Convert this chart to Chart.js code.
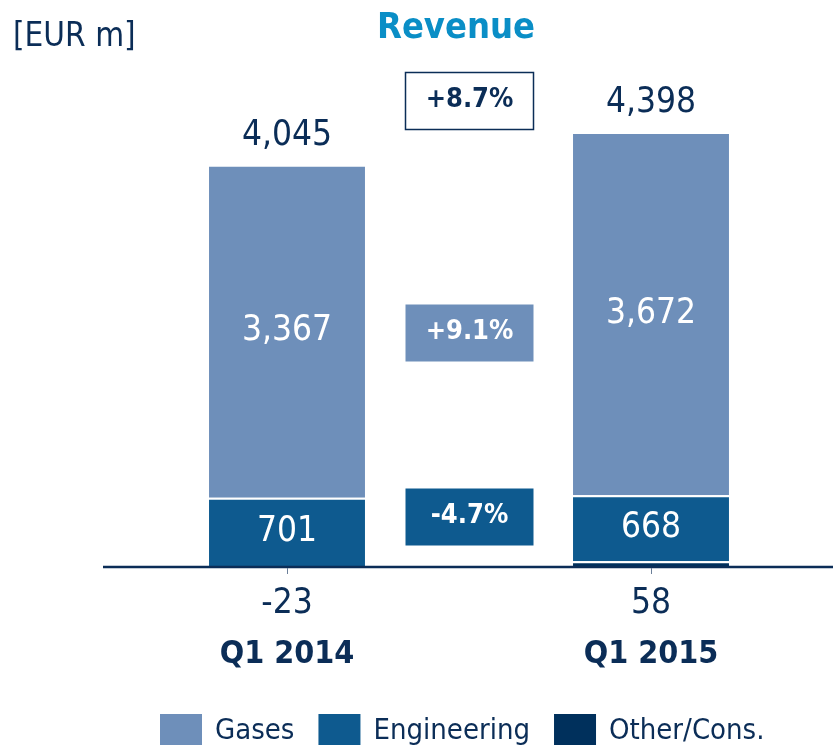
<!DOCTYPE html>
<html>
<head>
<meta charset="utf-8">
<script src="https://cdn.jsdelivr.net/npm/chart.js@4"></script>
<style>
  html, body { margin: 0; padding: 0; background: #fff; }
  #wrap { width: 833px; height: 749px; }
</style>
</head>
<body>
<div id="wrap"><canvas id="revenue"></canvas></div>
<script>
var categories = ["Q1 2014", "Q1 2015"];
var gases = [3367, 3672];
var engineering = [701, 668];
var other = [-23, 58];
var totals = [4045, 4398];
var changes = ["+8.7%", "+9.1%", "-4.7%"];

var NAVY = "#0b2d57";
var C_GASES = "#6e8fba";
var C_ENG = "#0e5a8f";
var C_OTHER = "#00305c";
var FONT = '"Liberation Sans Narrow", "DejaVu Sans Condensed", sans-serif';

function fmt(v) {
    return v.toLocaleString("en-US");
}

var labelsPlugin = {
    id: "labels",
    afterDatasetsDraw: function (chart) {
        var ctx = chart.ctx;
        var area = chart.chartArea;
        var x = chart.scales.x;
        var y = chart.scales.y;
        var y0 = y.getPixelForValue(0);
        ctx.save();

        // axis line + small ticks
        ctx.strokeStyle = NAVY;
        ctx.lineWidth = 2.5;
        ctx.beginPath();
        ctx.moveTo(area.left - 2, y0);
        ctx.lineTo(area.right, y0);
        ctx.stroke();
        ctx.strokeStyle = "#6b7f99";
        ctx.lineWidth = 1;
        categories.forEach(function (c, i) {
            var cx = Math.round(x.getPixelForValue(i)) + 0.5;
            ctx.beginPath();
            ctx.moveTo(cx, y0 + 1);
            ctx.lineTo(cx, y0 + 7);
            ctx.stroke();
        });

        ctx.textAlign = "center";
        ctx.textBaseline = "middle";

        // segment labels, totals, category labels
        var gMeta = chart.getDatasetMeta(2);
        var eMeta = chart.getDatasetMeta(1);
        categories.forEach(function (c, i) {
            var cx = x.getPixelForValue(i);
            ctx.fillStyle = "#ffffff";
            ctx.font = "35px " + FONT;
            var gb = gMeta.data[i];
            ctx.fillText(fmt(gases[i]), cx, (gb.y + gb.base) / 2);
            var eb = eMeta.data[i];
            ctx.fillText(fmt(engineering[i]), cx, (eb.y + eb.base) / 2);

            ctx.fillStyle = NAVY;
            ctx.fillText(fmt(totals[i]), cx, gb.y - 29);

            ctx.fillText(fmt(other[i]), cx, y0 + 37);
            ctx.font = "bold 32px " + FONT;
            ctx.fillText(c, cx, y0 + 88);
        });

        // change boxes between the bars
        var mx = (x.getPixelForValue(0) + x.getPixelForValue(1)) / 2;
        var boxes = [
            { cy: 100, fill: "#ffffff", stroke: NAVY, text: NAVY },
            { cy: 332, fill: C_GASES, stroke: null, text: "#ffffff" },
            { cy: 516, fill: C_ENG, stroke: null, text: "#ffffff" }
        ];
        ctx.font = "bold 27px " + FONT;
        boxes.forEach(function (b, i) {
            var w = 128, h = 57;
            var bx = Math.round(mx - w / 2) + 0.5;
            var by = Math.round(b.cy - h / 2) + 0.5;
            ctx.fillStyle = b.fill;
            ctx.fillRect(bx, by, w, h);
            if (b.stroke) {
                ctx.strokeStyle = b.stroke;
                ctx.lineWidth = 1.5;
                ctx.strokeRect(bx, by, w, h);
            }
            ctx.fillStyle = b.text;
            ctx.fillText(changes[i], bx + w / 2, b.cy);
        });

        // header
        ctx.textAlign = "left";
        ctx.fillStyle = NAVY;
        ctx.font = "33px " + FONT;
        ctx.fillText("[EUR m]", 13, 37);
        ctx.textAlign = "center";
        ctx.fillStyle = "#0a8ec6";
        ctx.font = "bold 36px " + FONT;
        ctx.fillText("Revenue", 456, 29);

        // legend
        var items = [
            { label: "Gases", color: C_GASES },
            { label: "Engineering", color: C_ENG },
            { label: "Other/Cons.", color: C_OTHER }
        ];
        ctx.font = "29px " + FONT;
        ctx.textAlign = "left";
        var lx = 160, ly = 730;
        items.forEach(function (it) {
            ctx.fillStyle = it.color;
            ctx.fillRect(lx, ly - 16, 42, 31);
            ctx.fillStyle = NAVY;
            ctx.fillText(it.label, lx + 55, ly + 1);
            lx += 55 + ctx.measureText(it.label).width + 24;
        });

        ctx.restore();
    }
};

var chart = new Chart(document.getElementById("revenue"), {
    type: "bar",
    data: {
        labels: categories,
        datasets: [
            { label: "Other/Cons.", data: other, backgroundColor: C_OTHER },
            { label: "Engineering", data: engineering, backgroundColor: C_ENG },
            { label: "Gases", data: gases, backgroundColor: C_GASES }
        ].map(function (d) {
            d.borderColor = "#ffffff";
            d.borderWidth = { top: 2, bottom: 0, left: 0, right: 0 };
            d.borderSkipped = false;
            d.barPercentage = 0.857;
            d.categoryPercentage = 0.5;
            return d;
        })
    },
    options: {
        responsive: true,
        maintainAspectRatio: false,
        animation: false,
        layout: {
            padding: { left: 105, right: 0, top: 60, bottom: 182 }
        },
        plugins: {
            legend: { display: false },
            tooltip: { enabled: false }
        },
        scales: {
            x: { stacked: true, display: false },
            y: { stacked: true, display: false, min: 0, max: 5126 }
        }
    },
    plugins: [labelsPlugin]
});
</script>
</body>
</html>
